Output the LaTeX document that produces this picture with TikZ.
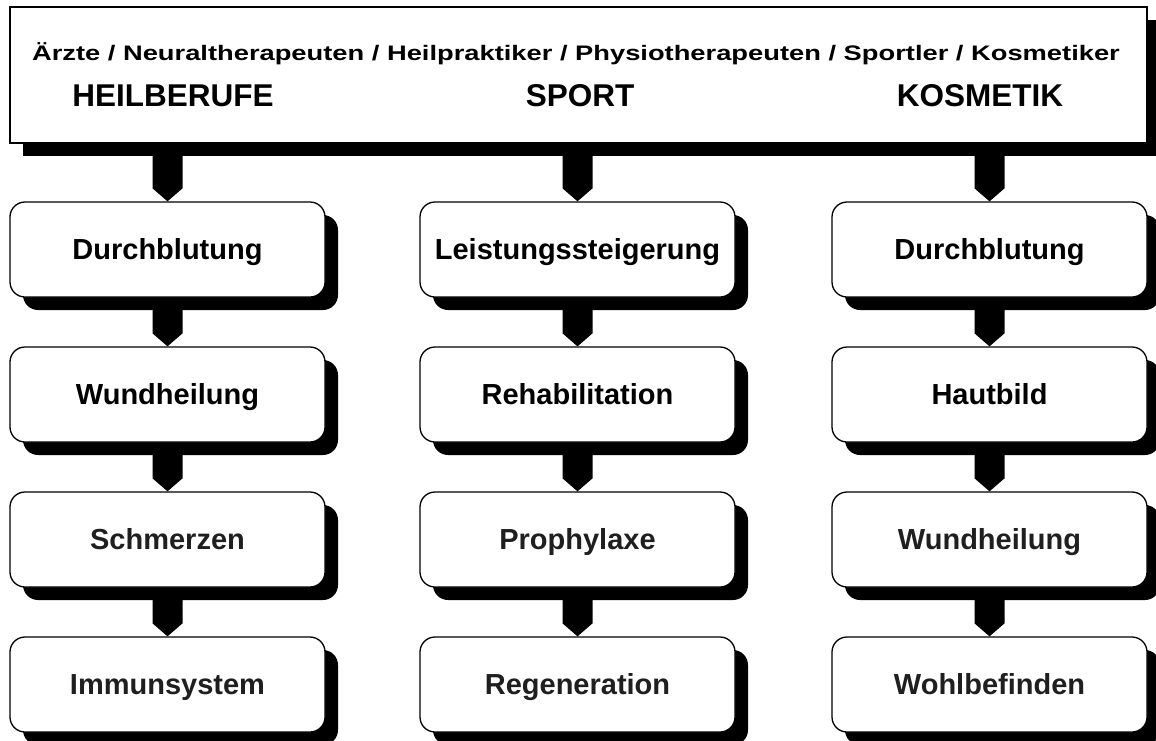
\documentclass[tikz,border=0pt]{standalone}
\usepackage{fontspec}
\setmainfont{Liberation Sans}
\usetikzlibrary{shadows,calc}
\pgfdeclarelayer{bg}
\pgfsetlayers{bg,main}
\tikzset{
  card/.style={draw=black, line width=1.3pt, fill=white, rounded corners=15pt,
    minimum width=315pt, minimum height=95pt, inner sep=0pt,
    text height=20.6pt, text depth=0pt, font=\fontsize{29}{31}\selectfont\bfseries,
    drop shadow={shadow xshift=13pt, shadow yshift=-13pt, fill=black, opacity=1}},
  dim/.style={text=black!88},
  headbox/.style={draw=black, line width=1.3pt, fill=white,
    minimum width=1137pt, minimum height=136pt, inner sep=0pt,
    drop shadow={shadow xshift=13pt, shadow yshift=-13pt, fill=black, opacity=1}},
  cat/.style={inner sep=0pt, text height=23pt, text depth=0pt,
    font=\fontsize{31.5}{34}\selectfont\bfseries},
  hdr/.style={inner sep=0pt, text height=15pt, text depth=0pt,
    font=\fontsize{21}{24}\selectfont\bfseries},
}
\newcommand\linkarrow[2]{%
  \fill[black] ($(#1)+(-15,0)$) -- ($(#1)+(15,0)$) -- ($(#2.north)+(15,13)$)
    -- (#2.north) -- ($(#2.north)+(-15,13)$) -- cycle;}
\begin{document}
\begin{tikzpicture}[x=1pt,y=1pt]
\useasboundingbox (0,0) rectangle (1156,-740);
\clip (0,0) rectangle (1156,-740);
% header
\node[headbox] (top) at (578.5,-75) {};
\node[hdr] (hline) at (576,-53) {\scalebox{1.3}[1]{Ärzte / Neuraltherapeuten / Heilpraktiker / Physiotherapeuten / Sportler / Kosmetiker}};
\node[cat] (c1) at (173,-95) {HEILBERUFE};
\node[cat] (c2) at (580,-95) {SPORT};
\node[cat] (c3) at (980,-95) {KOSMETIK};
% column 1
\node[card] (a1) at (167.5,-249.5) {Durchblutung};
\node[card] (a2) at (167.5,-394.5) {Wundheilung};
\node[card,dim] (a3) at (167.5,-539.5) {Schmerzen};
\node[card,dim] (a4) at (167.5,-684.5) {Immunsystem};
% column 2
\node[card] (b1) at (577.5,-249.5) {Leistungssteigerung};
\node[card] (b2) at (577.5,-394.5) {Rehabilitation};
\node[card,dim] (b3) at (577.5,-539.5) {Prophylaxe};
\node[card,dim] (b4) at (577.5,-684.5) {Regeneration};
% column 3
\node[card] (k1) at (989.5,-249.5) {Durchblutung};
\node[card] (k2) at (989.5,-394.5) {Hautbild};
\node[card,dim] (k3) at (989.5,-539.5) {Wundheilung};
\node[card,dim] (k4) at (989.5,-684.5) {Wohlbefinden};
% connectors
\coordinate (t1) at (top.south -| a1.north);
\coordinate (t2) at (top.south -| b1.north);
\coordinate (t3) at (top.south -| k1.north);
\begin{pgfonlayer}{bg}
\fill[white] (0,0) rectangle (1156,-740);
\linkarrow{t1}{a1}
\linkarrow{t2}{b1}
\linkarrow{t3}{k1}
\linkarrow{a1.south}{a2}
\linkarrow{a2.south}{a3}
\linkarrow{a3.south}{a4}
\linkarrow{b1.south}{b2}
\linkarrow{b2.south}{b3}
\linkarrow{b3.south}{b4}
\linkarrow{k1.south}{k2}
\linkarrow{k2.south}{k3}
\linkarrow{k3.south}{k4}
\end{pgfonlayer}
\end{tikzpicture}
\end{document}
